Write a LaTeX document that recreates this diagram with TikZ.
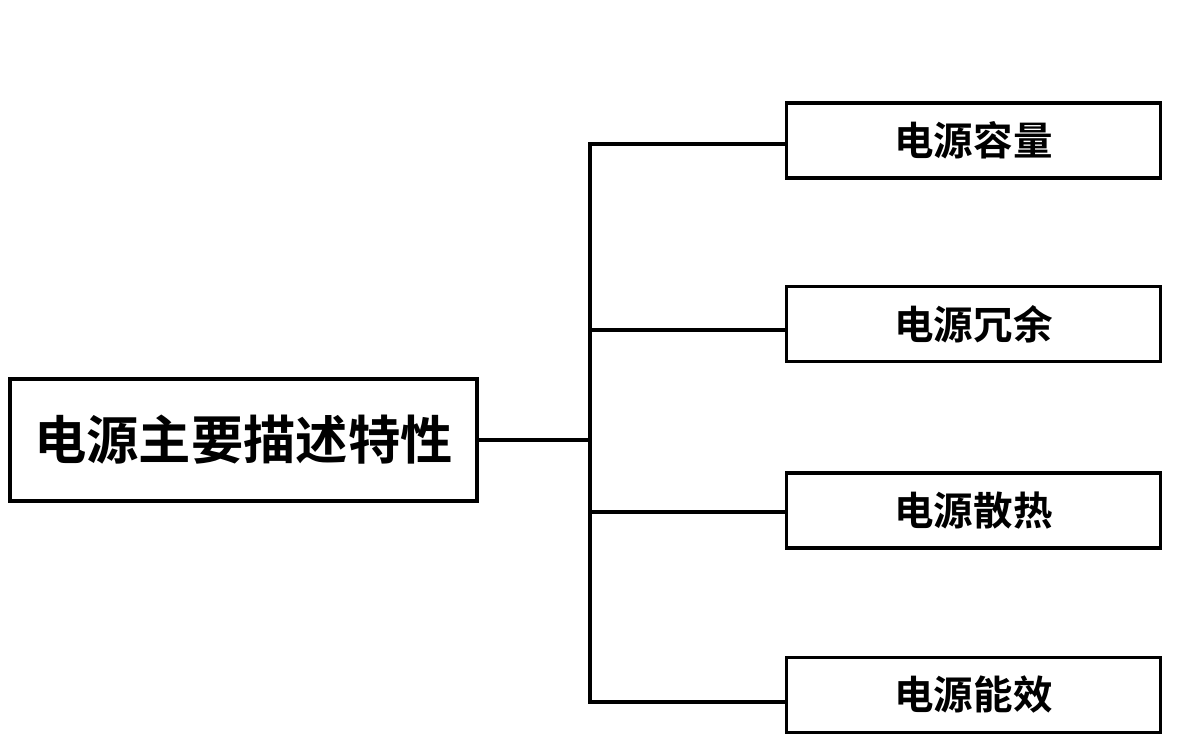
\documentclass[tikz,border=0pt]{standalone}
\usepackage{fontspec}
\setmainfont{Noto Sans CJK SC}[BoldFont={Noto Sans CJK SC Bold}]
\usetikzlibrary{positioning}
\tikzset{
    mainbox/.style={rectangle,draw,line width=1.8pt,minimum width=9.34cm,minimum height=2.44cm,inner sep=0pt,font=\bfseries\fontsize{29.8}{32}\selectfont},
    itembox/.style={rectangle,draw,line width=1.8pt,minimum width=7.48cm,minimum height=1.5cm,inner sep=0pt,font=\bfseries\fontsize{22.5}{26}\selectfont},
    branch/.style={line width=1.8pt}
}

\begin{document}
\begin{tikzpicture}[x=0.02cm,y=-0.02cm]
    \useasboundingbox (0,0) rectangle (1192,750);
    \node (main) at (243.5,440) [mainbox] {电源主要描述特性};
    \node (cap)  at (973.5,140.5) [itembox] {电源容量};
    \node (red)  at (973.5,324)   [itembox] {电源冗余};
    \node (heat) at (973.5,510.5) [itembox] {电源散热};
    \node (eff)  at (973.5,695)   [itembox] {电源能效};
    \coordinate (trunk) at (590,440);
    \draw[branch] (main.east) -- (trunk);
    \draw[branch] (trunk) |- ([yshift=-0.07cm]cap.west);
    \draw[branch] (trunk) |- ([yshift=-0.12cm]red.west);
    \draw[branch] (trunk) |- ([yshift=-0.03cm]heat.west);
    \draw[branch] (trunk) |- ([yshift=-0.14cm]eff.west);
\end{tikzpicture}
\end{document}
